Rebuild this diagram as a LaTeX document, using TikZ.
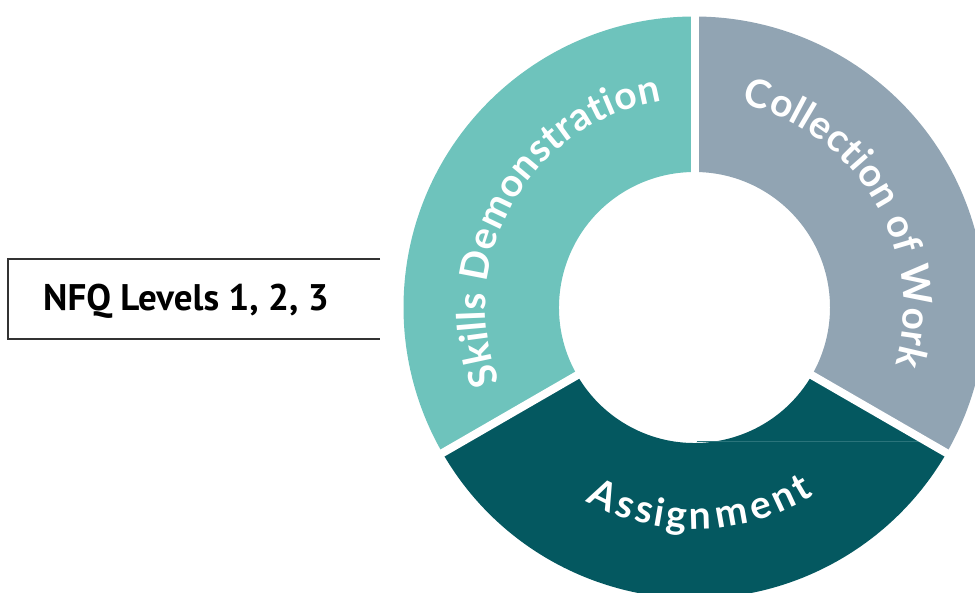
\documentclass[tikz,border=0pt]{standalone}
\usepackage{fontspec}
\usetikzlibrary{calc,decorations.text}
\newfontfamily\ringfont{Lato}[UprightFont=* Bold]
\newfontfamily\labelfont{PT Sans}[UprightFont=* Bold]
\newcommand\ringsize{\ringfont\fontsize{39}{39}\selectfont}
\definecolor{skillsteal}{HTML}{6EC3BC}
\definecolor{worksgrey}{HTML}{91A4B3}
\definecolor{assigndark}{HTML}{045860}
\definecolor{seamteal}{HTML}{2A747B}
\definecolor{boxline}{HTML}{333333}
\tikzset{
  ringtext/.style={decorate, decoration={text effects along path, text={#1},
      text effects/.cd, text along path, fit text to path,
      characters={text=white, font=\ringsize, inner sep=0pt},
      character widths={font=\ringsize, inner sep=0pt}}},
  gapline/.style={white, line width=8pt},
}
\begin{document}
\begin{tikzpicture}[x=1pt,y=1pt]
  \useasboundingbox (0,0) rectangle (975,592);
  \clip (0,0) rectangle (975,592);
  \coordinate (c) at (694.5,284.5);
  % three ring segments, 120 degrees each
  \fill[skillsteal] ($(c)+(90:291pt)$) arc[start angle=90, end angle=210, radius=291pt]
    -- ($(c)+(210:135.5pt)$) arc[start angle=210, end angle=90, radius=135.5pt] -- cycle;
  \fill[assigndark] ($(c)+(210:291pt)$) arc[start angle=210, end angle=330, radius=291pt]
    -- ($(c)+(330:135.5pt)$) arc[start angle=330, end angle=210, radius=135.5pt] -- cycle;
  \fill[worksgrey] ($(c)+(-30:291pt)$) arc[start angle=-30, end angle=90, radius=291pt]
    -- ($(c)+(90:135.5pt)$) arc[start angle=90, end angle=-30, radius=135.5pt] -- cycle;
  % faint seam across the dark segment
  \coordinate (seamA) at ($(c)+(2,-133.5)$);
  \coordinate (seamB) at ($(c)+(226,-133.5)$);
  \draw[seamteal, line width=0.7pt] (seamA) -- (seamB);
  % white gaps between the segments
  \draw[gapline] ($(c)+(90:130pt)$) -- ($(c)+(90:300pt)$);
  \draw[gapline] ($(c)+(210:130pt)$) -- ($(c)+(210:300pt)$);
  \draw[gapline] ($(c)+(330:130pt)$) -- ($(c)+(330:300pt)$);
  % curved labels
  \path[ringtext={Skills Demonstration}]
    ($(c)+(201:209pt)$) arc[start angle=201, end angle=99, radius=209pt];
  \path[ringtext={Collection of Work}]
    ($(c)+(77:209pt)$) arc[start angle=77, end angle=-16, radius=209pt];
  \path[ringtext={Assignment}]
    ($(c)+(240.5:222pt)$) arc[start angle=240.5, end angle=302.5, radius=222pt];
  % open-ended label box on the left
  \coordinate (boxTR) at (380,333);
  \coordinate (boxTL) at (8,333);
  \coordinate (boxBL) at (8,253);
  \coordinate (boxBR) at (380,253);
  \draw[boxline, line width=1.2pt] (boxTR) -- (boxTL) -- (boxBL) -- (boxBR);
  \node[anchor=base west, inner sep=0pt, font=\labelfont\fontsize{37}{37}\selectfont] (nfq) at (43,281) {NFQ Levels 1, 2, 3};
\end{tikzpicture}
\end{document}
